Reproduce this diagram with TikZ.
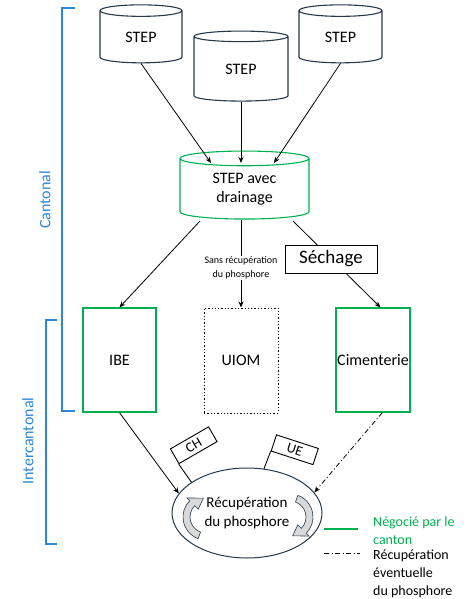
\documentclass[tikz,border=0pt]{standalone}
\usepackage{fontspec}
\setmainfont{Carlito}
\usetikzlibrary{shapes.geometric,arrows.meta,calc}

\definecolor{boxgreen}{RGB}{0,176,80}
\definecolor{bracketblue}{RGB}{46,134,214}
\definecolor{darkline}{RGB}{38,56,74}

\tikzset{
  cyl/.style={cylinder, shape border rotate=90, draw=darkline, line width=1.1pt,
              font=\fontsize{16}{19}\selectfont, align=center, inner sep=0pt},
  site/.style={draw=boxgreen, line width=1.3pt, minimum width=73pt, minimum height=104pt,
               font=\fontsize{16}{19}\selectfont, inner sep=1pt},
  flow/.style={-{Stealth[length=6pt,width=5pt]}, line width=0.8pt},
  maybe/.style={flow, dash pattern=on 5pt off 2.5pt on 1pt off 2.5pt},
  bracket/.style={draw=bracketblue, line width=1.3pt},
  flag/.style={draw, line width=0.9pt, minimum width=44pt, minimum height=17pt,
               inner sep=0pt, font=\fontsize{14}{16}\selectfont},
  cycarrow/.pic={
    \filldraw[fill=gray!30, draw=darkline, line width=0.6pt]
      (110:23) arc[start angle=110, end angle=225, radius=23] -- (225:27) -- (262:19)
      -- (225:11) -- (225:16) arc[start angle=225, end angle=110, radius=16] -- cycle;
  }
}

\begin{document}
\begin{tikzpicture}[x=1pt,y=-1pt]
\useasboundingbox (0,0) rectangle (473,599);

% niveaux
\draw[bracket] (75,8) -- (62,8) -- (62,411) -- (75,411);
\node[rotate=90, text=bracketblue, font=\fontsize{16}{19}\selectfont] (cantonal) at (45,200) {Cantonal};
\draw[bracket] (57,320) -- (46,320) -- (46,544) -- (57,544);
\node[rotate=90, text=bracketblue, font=\fontsize{16}{19}\selectfont] (intercantonal) at (28,441) {Intercantonal};

% stations
\node[cyl, aspect=0.37, minimum width=82pt, minimum height=58pt] (stepl) at (141,37) {STEP};
\node[cyl, aspect=0.34, minimum width=94pt, minimum height=70pt] (stepm) at (241,69) {STEP};
\node[cyl, aspect=0.37, minimum width=83pt, minimum height=58pt] (stepr) at (340.5,37) {STEP};
\node[cyl, draw=boxgreen, aspect=0.23, minimum width=129pt, minimum height=68pt] (drain) at (244.5,189) {STEP avec\\drainage};

\draw[flow] (stepl.south) -- ($(drain)+(-33.5,-26)$);
\draw[flow] (stepm.south) -- ($(drain)+(-3.5,-26)$);
\draw[flow] (stepr.south) -- ($(drain)+(29.5,-26)$);

% filieres
\node[site] (ibe) at (119.5,360) {IBE};
\node[site, draw=black, dotted, line width=1pt, minimum width=74pt, minimum height=105pt] (uiom) at (241,360.5) {UIOM};
\node[site, minimum width=74pt] (cim) at (373,360) {Cimenterie};

\draw[flow] ($(drain)+(-44.5,32)$) -- (ibe.north);
\draw[flow] (uiom |- drain.south) -- node[pos=0.55, fill=white, align=center, inner sep=1pt,
  font=\fontsize{10}{14}\selectfont] (sans) {Sans récupération\\du phosphore} (uiom.north);
\draw[flow] ($(drain)+(48.5,32)$) -- (cim.82);
\node[draw, line width=1pt, fill=white, minimum width=92pt, minimum height=28pt, inner sep=0pt,
  font=\fontsize{19}{22}\selectfont] (sechage) at (331,259) {Séchage};

% recuperation
\node[ellipse, draw=darkline, line width=1pt, minimum width=150pt, minimum height=90pt, inner sep=0pt,
  align=center, font=\fontsize{15}{19}\selectfont] (recup) at (247,513) {Récupération\\du phosphore};
\pic at (206,517) {cycarrow};
\pic[rotate=180] at (290,517) {cycarrow};

\draw[flow] (ibe.south) -- (recup.164);
\draw[maybe] (cim.-80) -- (recup.17);

\node[flag, rotate=30] (ch) at (193.75,445.25) {CH};
\draw[line width=0.9pt] (recup.151) -- (ch.south west);
\node[flag, rotate=-18] (ue) at (294.75,449.75) {UE};
\draw[line width=0.9pt] (recup.69) -- (ue.south west);

% legende
\draw[boxgreen, line width=1.3pt] (324,529) -- (358,529);
\node[anchor=west, text=boxgreen, align=left, inner sep=2pt, font=\fontsize{14}{18}\selectfont] (leggreen) at (371,531) {Négocié par le\\canton};
\draw[line width=0.8pt, dash pattern=on 5pt off 2.5pt on 1pt off 2.5pt] (324,553) -- (360,553);
\node[anchor=west, align=left, inner sep=2pt, font=\fontsize{14}{18}\selectfont] (legdash) at (371,574) {Récupération\\éventuelle\\du phosphore};

\end{tikzpicture}
\end{document}
